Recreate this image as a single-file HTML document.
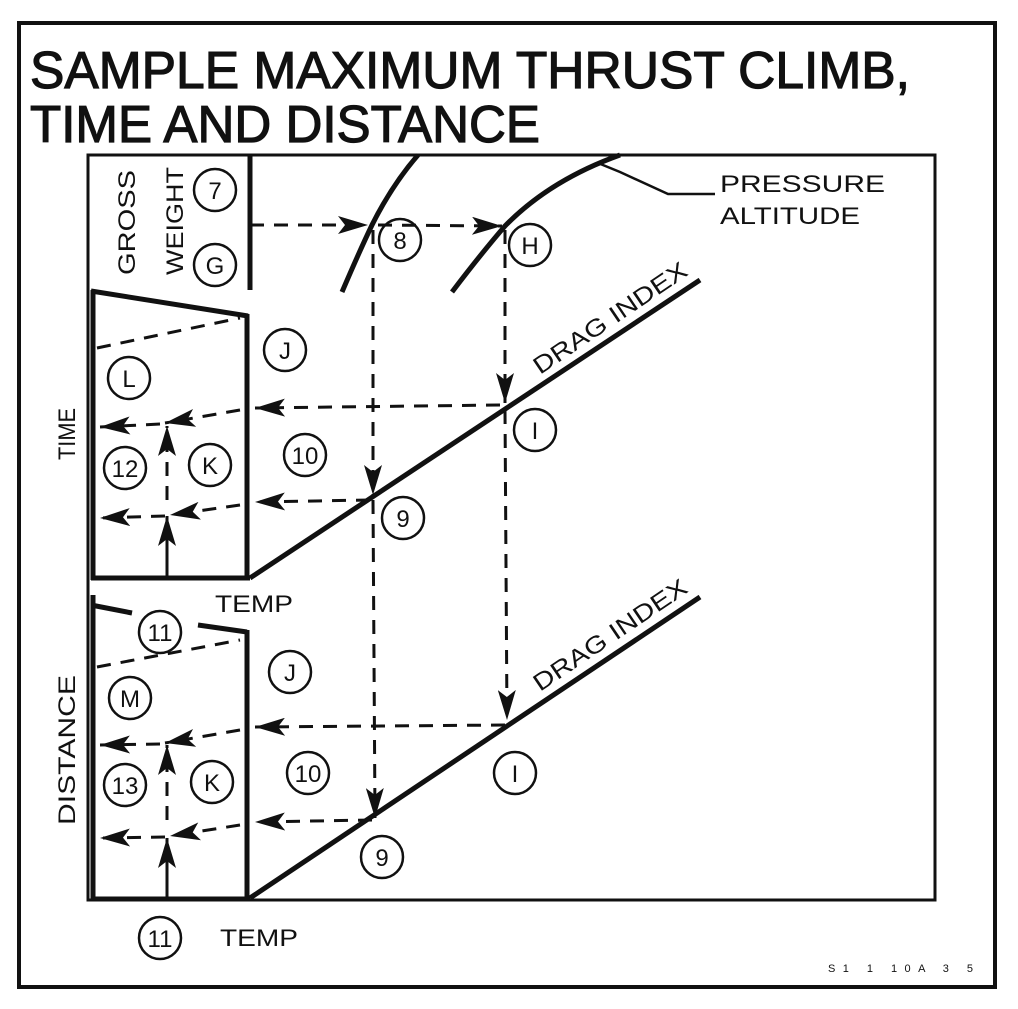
<!DOCTYPE html>
<html><head><meta charset="utf-8"><style>
html,body{margin:0;padding:0;background:#fff;}
svg{display:block;font-family:"Liberation Sans",sans-serif;}
</style></head><body>
<svg width="1018" height="1009" viewBox="0 0 1018 1009">
<defs>
<marker id="ah" viewBox="0 0 30 18" refX="30" refY="9" markerWidth="30" markerHeight="18" markerUnits="userSpaceOnUse" orient="auto"><path d="M0,0 L30,9 L0,18 L7,9 Z" fill="#111"/></marker>
</defs>
<rect x="19" y="23" width="976" height="964" fill="none" stroke="#111" stroke-width="4"/>
<g fill="#111" stroke="#111" stroke-width="1.2">
<text x="30" y="88" font-size="52" textLength="880" lengthAdjust="spacingAndGlyphs">SAMPLE MAXIMUM THRUST CLIMB,</text>
<text x="30" y="142" font-size="52" textLength="510" lengthAdjust="spacingAndGlyphs">TIME AND DISTANCE</text>
</g>
<rect x="88" y="155" width="847" height="745" fill="none" stroke="#111" stroke-width="3"/>
<g stroke="#111" fill="none" stroke-width="5">
<line x1="250" y1="155" x2="250" y2="290"/>
<line x1="93" y1="290" x2="93" y2="580"/>
<line x1="91" y1="291" x2="248" y2="316"/>
<line x1="247" y1="314" x2="247" y2="580"/>
<line x1="91" y1="578" x2="250" y2="578"/>
<line x1="93" y1="595" x2="93" y2="900"/>
<line x1="91" y1="605" x2="132" y2="613"/>
<line x1="198" y1="625" x2="247" y2="632"/>
<line x1="247" y1="630" x2="247" y2="900"/>
<line x1="91" y1="899" x2="250" y2="899"/>
<line x1="250" y1="578" x2="700" y2="280"/>
<line x1="250" y1="898" x2="700" y2="597"/>
<path d="M342,292 Q360,250 372,225 Q392,185 418,155"/>
<path d="M452,292 Q480,255 505,226 Q550,180 620,155"/>
</g>
<path d="M598,163 L620,172 L668,194 L715,194" stroke="#111" stroke-width="2.5" fill="none"/>
<g stroke="#111" fill="none" stroke-width="3" stroke-dasharray="14,10">
<line x1="97" y1="348" x2="240" y2="318"/>
<line x1="97" y1="667" x2="240" y2="640"/>
<line x1="250" y1="225" x2="368" y2="225" marker-end="url(#ah)"/>
<line x1="378" y1="225" x2="502" y2="226" marker-end="url(#ah)"/>
<line x1="373" y1="230" x2="373" y2="495" marker-end="url(#ah)"/>
<line x1="373" y1="500" x2="375" y2="818" marker-end="url(#ah)"/>
<line x1="505" y1="230" x2="505" y2="403" marker-end="url(#ah)"/>
<line x1="505" y1="410" x2="507" y2="720" marker-end="url(#ah)"/>
<line x1="500" y1="405" x2="255" y2="408" marker-end="url(#ah)"/>
<line x1="240" y1="410" x2="165" y2="423" marker-end="url(#ah)"/>
<line x1="160" y1="424" x2="100" y2="427" marker-end="url(#ah)"/>
<line x1="370" y1="500" x2="255" y2="502" marker-end="url(#ah)"/>
<line x1="240" y1="505" x2="170" y2="515" marker-end="url(#ah)"/>
<line x1="165" y1="516" x2="100" y2="518" marker-end="url(#ah)"/>
<line x1="505" y1="725" x2="255" y2="727" marker-end="url(#ah)"/>
<line x1="240" y1="730" x2="165" y2="743" marker-end="url(#ah)"/>
<line x1="160" y1="744" x2="100" y2="745" marker-end="url(#ah)"/>
<line x1="372" y1="820" x2="255" y2="822" marker-end="url(#ah)"/>
<line x1="240" y1="825" x2="170" y2="836" marker-end="url(#ah)"/>
<line x1="165" y1="837" x2="100" y2="838" marker-end="url(#ah)"/>
<line x1="167" y1="578" x2="167" y2="516" marker-end="url(#ah)" stroke-dasharray="none"/>
<line x1="167" y1="500" x2="167" y2="426" marker-end="url(#ah)"/>
<line x1="167" y1="898" x2="167" y2="838" marker-end="url(#ah)" stroke-dasharray="none"/>
<line x1="167" y1="820" x2="167" y2="745" marker-end="url(#ah)"/>
</g>
<g font-size="24" text-anchor="middle" fill="#111">
<g stroke="#111" stroke-width="2.5" fill="none">
<circle cx="215" cy="190" r="21"/><circle cx="215" cy="265" r="21"/>
<circle cx="400" cy="240" r="21"/><circle cx="530" cy="245" r="21"/>
<circle cx="285" cy="350" r="21"/><circle cx="129" cy="378" r="21"/>
<circle cx="535" cy="430" r="21"/><circle cx="125" cy="468" r="21"/>
<circle cx="210" cy="465" r="21"/><circle cx="305" cy="455" r="21"/>
<circle cx="403" cy="518" r="21"/><circle cx="160" cy="632" r="21"/>
<circle cx="290" cy="672" r="21"/><circle cx="130" cy="698" r="21"/>
<circle cx="515" cy="773" r="21"/><circle cx="125" cy="785" r="21"/>
<circle cx="212" cy="782" r="21"/><circle cx="308" cy="773" r="21"/>
<circle cx="382" cy="857" r="21"/><circle cx="160" cy="938" r="21"/>
</g>
<text x="215" y="199">7</text><text x="215" y="274">G</text>
<text x="400" y="249">8</text><text x="530" y="254">H</text>
<text x="285" y="359">J</text><text x="129" y="387">L</text>
<text x="535" y="439">I</text><text x="125" y="477">12</text>
<text x="210" y="474">K</text><text x="305" y="464">10</text>
<text x="403" y="527">9</text><text x="160" y="641">11</text>
<text x="290" y="681">J</text><text x="130" y="707">M</text>
<text x="515" y="782">I</text><text x="125" y="794">13</text>
<text x="212" y="791">K</text><text x="308" y="782">10</text>
<text x="382" y="866">9</text><text x="160" y="947">11</text>
</g>
<g fill="#111" font-size="24">
<text transform="translate(135,275) rotate(-90)" textLength="105" lengthAdjust="spacingAndGlyphs">GROSS</text>
<text transform="translate(183,275) rotate(-90)" textLength="108" lengthAdjust="spacingAndGlyphs">WEIGHT</text>
<text transform="translate(75,460) rotate(-90)" textLength="52" lengthAdjust="spacingAndGlyphs">TIME</text>
<text transform="translate(75,825) rotate(-90)" textLength="150" lengthAdjust="spacingAndGlyphs">DISTANCE</text>
<text x="215" y="612" textLength="78" lengthAdjust="spacingAndGlyphs">TEMP</text>
<text x="220" y="946" textLength="78" lengthAdjust="spacingAndGlyphs">TEMP</text>
<text x="720" y="192" textLength="165" lengthAdjust="spacingAndGlyphs">PRESSURE</text>
<text x="720" y="224" textLength="140" lengthAdjust="spacingAndGlyphs">ALTITUDE</text>
<text transform="translate(540,375) rotate(-34)" textLength="180" lengthAdjust="spacingAndGlyphs">DRAG INDEX</text>
<text transform="translate(540,692) rotate(-34)" textLength="180" lengthAdjust="spacingAndGlyphs">DRAG INDEX</text>
<text x="828" y="972" font-size="11" textLength="145" lengthAdjust="spacing">S1 1 10A 3 5</text>
</g>
</svg>
</body></html>
